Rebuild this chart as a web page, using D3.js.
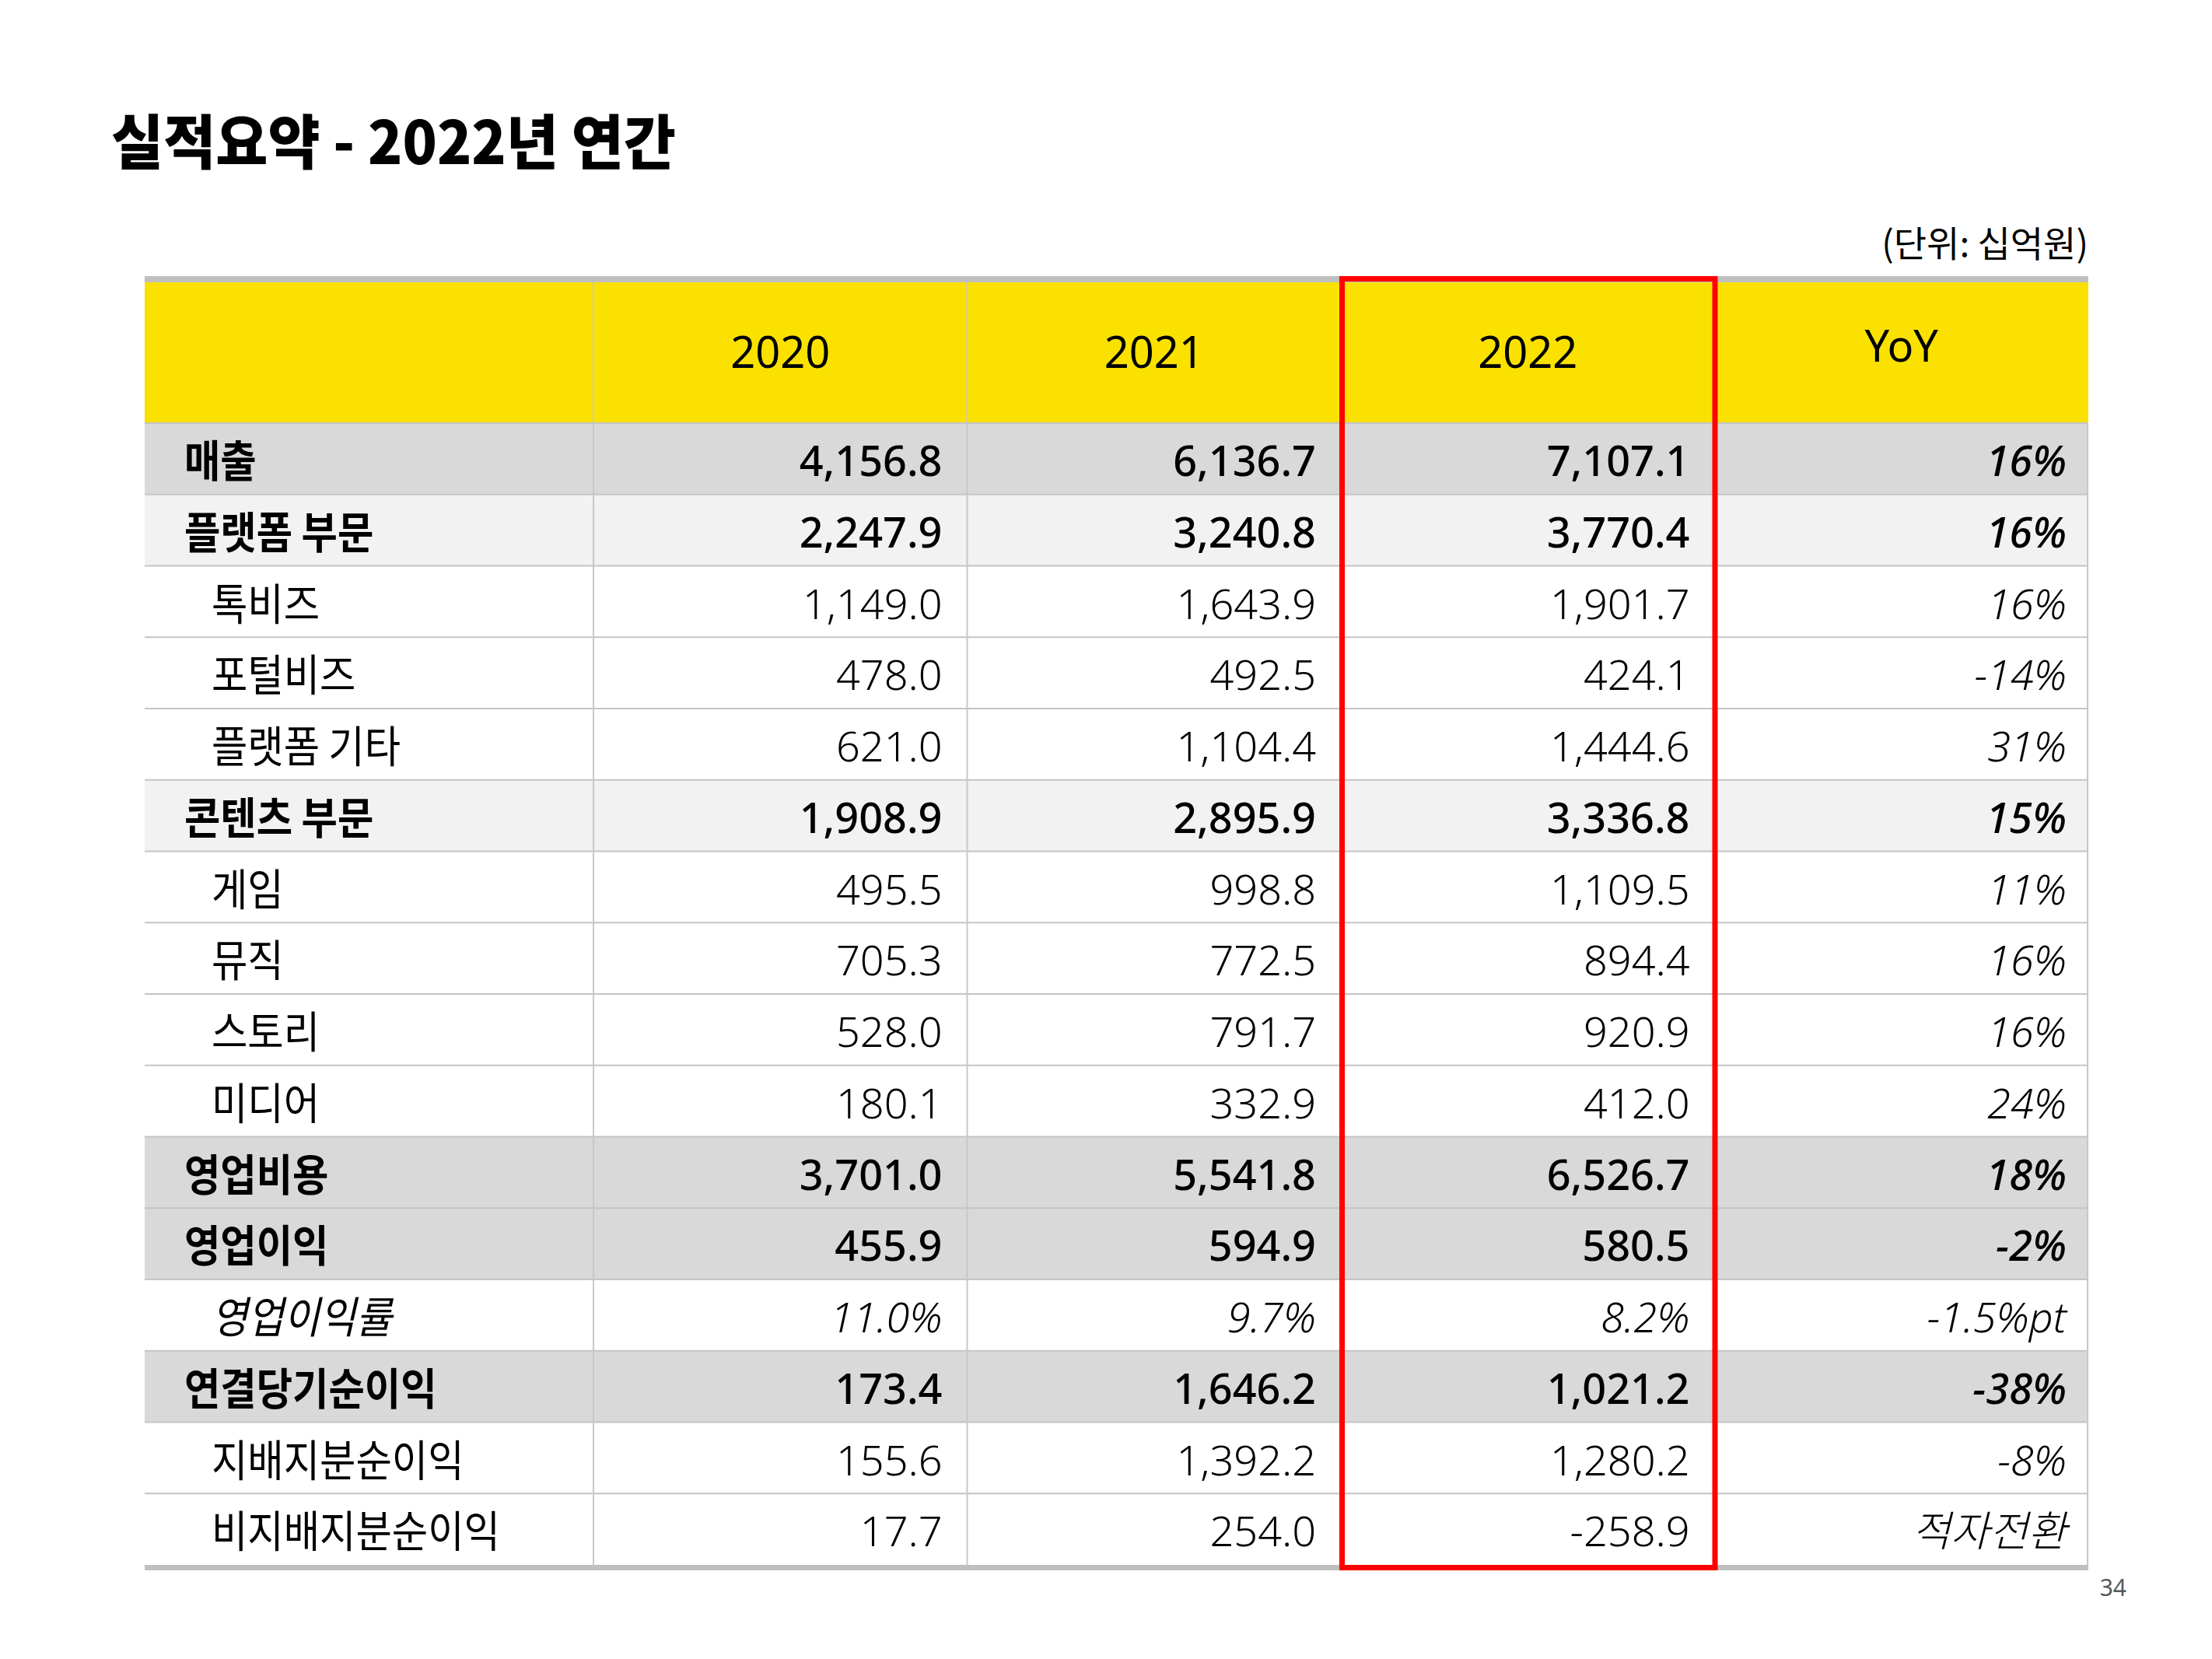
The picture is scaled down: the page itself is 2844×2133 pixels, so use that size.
<!DOCTYPE html>
<html><head><meta charset="utf-8">
<script src="https://cdn.jsdelivr.net/npm/d3@7"></script>
<style>html,body{margin:0;padding:0;background:#fff;}svg{display:block;}</style>
</head><body>
<script>
// ---- data ----
const rowLabels = ["매출","플랫폼 부문","톡비즈","포털비즈","플랫폼 기타","콘텐츠 부문","게임","뮤직","스토리","미디어","영업비용","영업이익","영업이익률","연결당기순이익","지배지분순이익","비지배지분순이익"];
const rowTypes  = ["total","segment","sub","sub","sub","segment","sub","sub","sub","sub","total","total","margin","total","sub","sub"];
const columns   = ["2020","2021","2022","YoY"];
const v2020 = [4156.8,2247.9,1149.0,478.0,621.0,1908.9,495.5,705.3,528.0,180.1,3701.0,455.9,11.0,173.4,155.6,17.7];
const v2021 = [6136.7,3240.8,1643.9,492.5,1104.4,2895.9,998.8,772.5,791.7,332.9,5541.8,594.9,9.7,1646.2,1392.2,254.0];
const v2022 = [7107.1,3770.4,1901.7,424.1,1444.6,3336.8,1109.5,894.4,920.9,412.0,6526.7,580.5,8.2,1021.2,1280.2,-258.9];
const yoy   = ["16%","16%","16%","-14%","31%","15%","11%","16%","16%","24%","18%","-2%","-1.5%pt","-38%","-8%","적자전환"];
const title = "실적요약 - 2022년 연간";
const unitText = "(단위: 십억원)";
const pageNo = "34";
const highlightCol = "2022";

// ---- layout ----
const W = 2844, H = 2133;
const tableL = 186, tableR = 2685, labelR = 763;
const headTop = 363, headBot = 544, bodyBot = 2012;
const CJK = "'Noto Sans CJK KR','Noto Sans',sans-serif";
const LAT = "'Noto Sans','Open Sans',sans-serif";
const fills = {total:"#D9D9D9", segment:"#F2F2F2", sub:"#FFFFFF", margin:"#FFFFFF"};
const fmt = d3.formatLocale({decimal:".",thousands:",",grouping:[3],currency:["",""],minus:"-"}).format(",.1f");

const svg = d3.select("body").append("svg").attr("width",W).attr("height",H);
svg.append("rect").attr("width",W).attr("height",H).attr("fill","#fff");

const y = d3.scaleBand().domain(d3.range(rowLabels.length)).range([headBot, bodyBot]);
const x = d3.scaleBand().domain(columns).range([labelR, tableR]);

// row backgrounds
svg.append("g").selectAll("rect").data(rowLabels).join("rect")
  .attr("x",tableL).attr("width",tableR-tableL)
  .attr("y",(d,i)=>y(i)).attr("height",y.bandwidth())
  .attr("fill",(d,i)=>fills[rowTypes[i]]);

// header
svg.append("rect").attr("x",tableL).attr("y",headTop).attr("width",tableR-tableL).attr("height",headBot-headTop).attr("fill","#FAE100");

// horizontal separators
svg.append("g").selectAll("line").data(d3.range(rowLabels.length)).join("line")
  .attr("x1",tableL).attr("x2",tableR)
  .attr("y1",i=>y(i)).attr("y2",i=>y(i))
  .attr("stroke","#C4C4C4").attr("stroke-width",2);

// vertical lines
svg.append("g").selectAll("line").data(columns).join("line")
  .attr("x1",c=>x(c)).attr("x2",c=>x(c))
  .attr("y1",headTop).attr("y2",bodyBot)
  .attr("stroke","#C8C8C8").attr("stroke-width",2);
svg.append("line").attr("x1",tableR-1).attr("x2",tableR-1).attr("y1",headBot).attr("y2",bodyBot)
  .attr("stroke","#C8C8C8").attr("stroke-width",2);

// thick gray top & bottom rules
svg.append("rect").attr("x",tableL).attr("y",355).attr("width",tableR-tableL).attr("height",8).attr("fill","#BFBFBF");
svg.append("rect").attr("x",tableL).attr("y",bodyBot).attr("width",tableR-tableL).attr("height",7).attr("fill","#BFBFBF");

// header text
svg.append("g").selectAll("text").data(columns).join("text")
  .attr("x",c=>x(c)+x.bandwidth()/2)
  .attr("y",c=>c==="YoY"?465:473)
  .attr("text-anchor","middle")
  .attr("font-family",LAT).attr("font-size",56).attr("fill","#000")
  .text(c=>c);

// labels
const bold = t => t==="total"||t==="segment";
svg.append("g").selectAll("text").data(rowLabels).join("text")
  .attr("transform",(d,i)=>`translate(${bold(rowTypes[i])?237:272},${y(i)+69}) scale(0.9,1)`)
  .attr("font-family",CJK).attr("font-size",56)
  .attr("font-weight",(d,i)=>bold(rowTypes[i])?700:400)
  .attr("font-style",(d,i)=>rowTypes[i]==="margin"?"italic":"normal")
  .attr("fill","#000")
  .text(d=>d);

// values
const series = {"2020":v2020,"2021":v2021,"2022":v2022};
const cells = [];
["2020","2021","2022"].forEach(c=>{
  series[c].forEach((v,i)=>cells.push({c, i, t: rowTypes[i]==="margin" ? v.toFixed(1)+"%" : fmt(v)}));
});
yoy.forEach((v,i)=>cells.push({c:"YoY", i, t:v}));

svg.append("g").selectAll("text").data(cells).join("text")
  .attr("x",d=>x(d.c)+x.bandwidth()-(d.c==="YoY"?28:32))
  .attr("y",d=>y(d.i)+68)
  .attr("text-anchor","end")
  .attr("font-family",d=>/[가-힣]/.test(d.t)?CJK:LAT)
  .attr("font-size",54)
  .attr("font-weight",d=>bold(rowTypes[d.i])?500:300)
  .attr("font-style",d=>(d.c==="YoY"||rowTypes[d.i]==="margin")?"italic":"normal")
  .attr("fill","#000")
  .text(d=>d.t);

// highlight box
svg.append("rect")
  .attr("x",x(highlightCol)+1.5).attr("y",358.5)
  .attr("width",x.bandwidth()-1).attr("height",bodyBot+7-3.5-358.5)
  .attr("fill","none").attr("stroke","#FF0000").attr("stroke-width",7);

// title, unit, page
svg.append("text").attr("x",143).attr("y",211)
  .attr("font-family",CJK).attr("font-size",76).attr("font-weight",900).attr("fill","#000")
  .attr("textLength",726).attr("lengthAdjust","spacingAndGlyphs")
  .text(title);
svg.append("text").attr("x",tableR).attr("y",330).attr("text-anchor","end")
  .attr("font-family",CJK).attr("font-size",46).attr("fill","#000").text(unitText);
svg.append("text").attr("x",2734).attr("y",2052).attr("text-anchor","end")
  .attr("font-family",LAT).attr("font-size",30).attr("fill","#595959").text(pageNo);
</script>
</body></html>
